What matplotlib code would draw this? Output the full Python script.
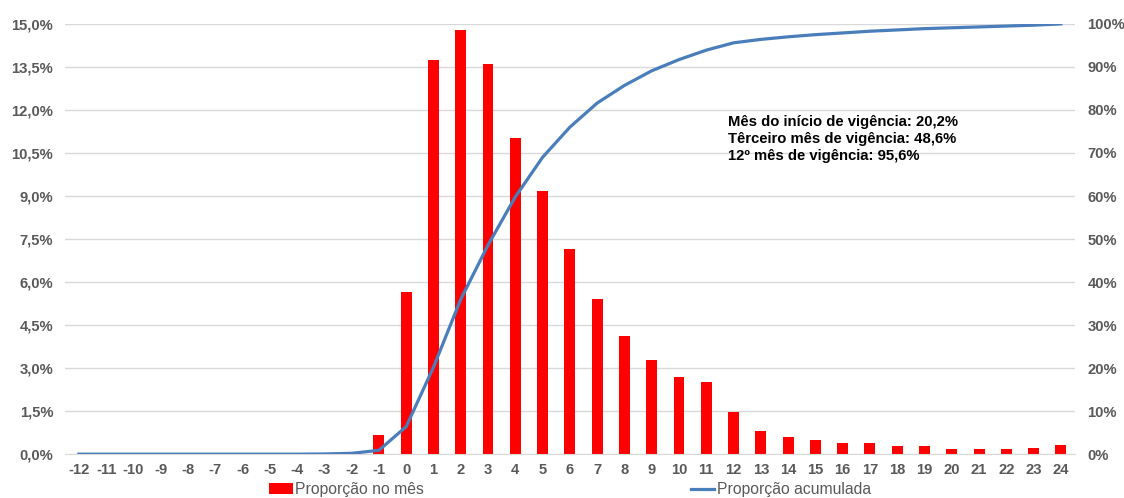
import matplotlib
matplotlib.use('Agg')
from matplotlib import pyplot as plt
from matplotlib.ticker import FuncFormatter

plt.rcParams['font.family'] = ['Liberation Sans', 'DejaVu Sans']

meses = list(range(-12, 25))

# proporção no mês (%)
prop_mes = [0, 0, 0, 0, 0, 0, 0, 0, 0, 0.02, 0.05, 0.66,
            5.64, 13.75, 14.79, 13.61, 11.03, 9.19, 7.14, 5.40, 4.11, 3.27,
            2.68, 2.51, 1.46, 0.80, 0.59, 0.51, 0.39, 0.39, 0.28, 0.27,
            0.17, 0.17, 0.17, 0.23, 0.31]

# proporção acumulada (%)
prop_acum = [0, 0, 0, 0, 0, 0, 0, 0, 0, 0.05, 0.2, 0.9,
             6.4, 20.2, 36.0, 48.6, 59.8, 69.0, 76.0, 81.6, 85.7, 89.1,
             91.7, 93.9, 95.6, 96.4, 97.0, 97.5, 97.9, 98.3, 98.6, 98.9,
             99.1, 99.3, 99.5, 99.7, 100.0]

notas = ['Mês do início de vigência: 20,2%',
         'Têrceiro mês de vigência: 48,6%',
         '12º mês de vigência: 95,6%']

cinza = '#595959'

fig = plt.figure(figsize=(11.24, 4.98), dpi=100)
ax = fig.add_axes([0.058, 0.088, 0.898, 0.864])
ax2 = ax.twinx()

ax.bar(meses, prop_mes, width=0.4, color='#FF0000', label='Proporção no mês', zorder=2)
ax2.plot(meses, prop_acum, color='#4A7EBB', linewidth=2.3, label='Proporção acumulada', zorder=3)

ax.set_xlim(-12.5, 24.5)
ax.set_ylim(0, 15)
ax2.set_ylim(0, 100)
ax.set_yticks([i * 1.5 for i in range(11)])
ax2.set_yticks(range(0, 101, 10))
ax.set_xticks(meses)
ax.set_xticklabels([str(m) for m in meses])

ax.yaxis.set_major_formatter(FuncFormatter(lambda v, p: ('%.1f%%' % v).replace('.', ',')))
ax2.yaxis.set_major_formatter(FuncFormatter(lambda v, p: '%d%%' % v))

ax.grid(axis='y', color='#D9D9D9', linewidth=1, zorder=0)
ax.set_axisbelow(True)
for a in (ax, ax2):
    for s in a.spines.values():
        s.set_visible(False)
    a.tick_params(length=0, labelsize=10.6, labelcolor=cinza)
    for lab in a.get_xticklabels() + a.get_yticklabels():
        lab.set_fontweight('bold')
ax.tick_params(axis='x', pad=6)
ax.tick_params(axis='y', pad=8.6)
ax2.tick_params(axis='y', pad=9.4)
ax.spines['bottom'].set_visible(True)
ax.spines['bottom'].set_color('#D9D9D9')

ax.text(0.657, 0.788, '\n'.join(notas), transform=ax.transAxes, fontsize=10.7,
        fontweight='bold', color='black', va='top', ha='left', linespacing=1.28)

h1, l1 = ax.get_legend_handles_labels()
h2, l2 = ax2.get_legend_handles_labels()
fig.legend(h1 + h2, l1 + l2, loc='center', bbox_to_anchor=(0.507, 0.017), ncol=2,
           frameon=False, fontsize=11.3, labelcolor=cinza, handlelength=1.5,
           handletextpad=0.15, columnspacing=17)

plt.savefig('out.png', dpi=100)
